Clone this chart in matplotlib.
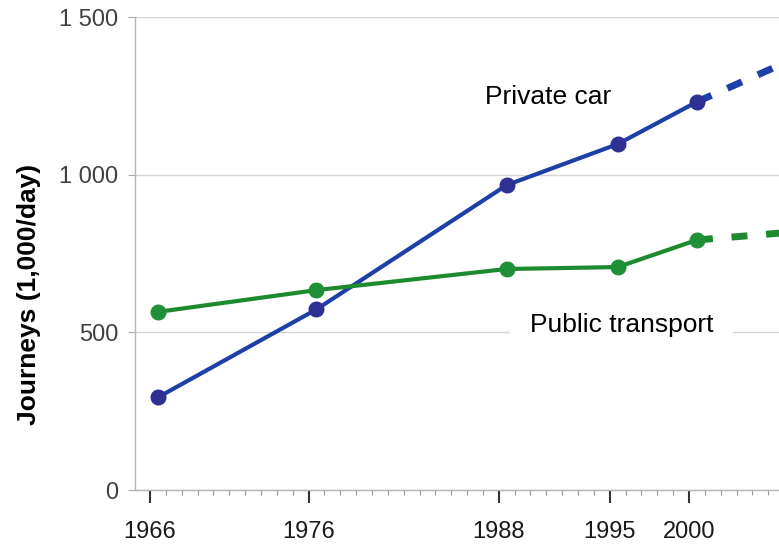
import numpy as np
import matplotlib
matplotlib.use('Agg')
import matplotlib.pyplot as plt
from matplotlib.ticker import FixedLocator, MultipleLocator

# survey years and journeys (1,000/day)
years = [1966, 1976, 1988, 1995, 2000]
private_car = [294, 573, 967, 1097, 1231]
public_transport = [565, 634, 701, 707, 793]

# dashed projection beyond 2000
proj_years = [2000, 2006]
private_car_proj = [1231, 1365]
public_transport_proj = [793, 818]

y_ticks = [0, 500, 1000, 1500]
y_tick_labels = ['0', '500', '1 000', '1 500']

car_line = '#1f3fa8'
car_dot = '#2f3094'
pt_line = '#1d8a30'
pt_dot = '#1f9038'

plt.rcParams['font.family'] = ['Liberation Sans', 'DejaVu Sans']

fig = plt.figure(figsize=(7.79, 5.48), dpi=100)
ax = fig.add_axes([0.1733, 0.1058, 0.8267, 0.8631])

# points sit in the middle of the year
x = np.array(years) + 0.5
xp = np.array(proj_years) + 0.5

ax.plot(xp, private_car_proj, color=car_line, lw=5, dashes=(2.3, 2.5),
        solid_capstyle='butt', zorder=3)
ax.plot(xp, public_transport_proj, color=pt_line, lw=5, dashes=(2.3, 2.7),
        solid_capstyle='butt', zorder=3)
ax.plot(x, private_car, color=car_line, lw=3, marker='o', ms=10.5,
        mfc=car_dot, mec=car_dot, zorder=4)
ax.plot(x, public_transport, color=pt_line, lw=3, marker='o', ms=10.5,
        mfc=pt_dot, mec=pt_dot, zorder=4)

ax.text(1991.1, 1246, 'Private car', fontsize=19, ha='center', va='center',
        zorder=5)
ax.text(1995.75, 524, 'Public transport', fontsize=19, ha='center',
        va='center', zorder=2,
        bbox=dict(boxstyle='square,pad=0.75', fc='white', ec='none'))

ax.set_xlim(1965.05, 2005.68)
ax.set_ylim(0, 1500)

ax.xaxis.set_major_locator(FixedLocator(years))
ax.xaxis.set_minor_locator(MultipleLocator(1))
ax.set_xticklabels([str(y) for y in years])
ax.set_yticks(y_ticks)
ax.set_yticklabels(y_tick_labels)

ax.tick_params(axis='x', which='major', length=9.5, width=1.5,
               color='#333333', labelsize=17, pad=13, labelcolor='#1a1a1a')
ax.tick_params(axis='x', which='minor', length=3.5, width=0.8,
               color='#999999')
ax.tick_params(axis='y', length=5, width=0.8, color='#aaaaaa',
               labelsize=17, pad=7, labelcolor='#404040')

ax.grid(axis='y', color='#d4d4d4', lw=1, zorder=0)
ax.set_axisbelow(True)
for side in ['top', 'right']:
    ax.spines[side].set_visible(False)
for side in ['left', 'bottom']:
    ax.spines[side].set_color('#b5b5b5')
    ax.spines[side].set_linewidth(1)

fig.text(0.037, 0.462, 'Journeys (1,000/day)', rotation=90, fontsize=19,
         fontweight='bold', ha='center', va='center')

fig.savefig('out.png', dpi=100)
